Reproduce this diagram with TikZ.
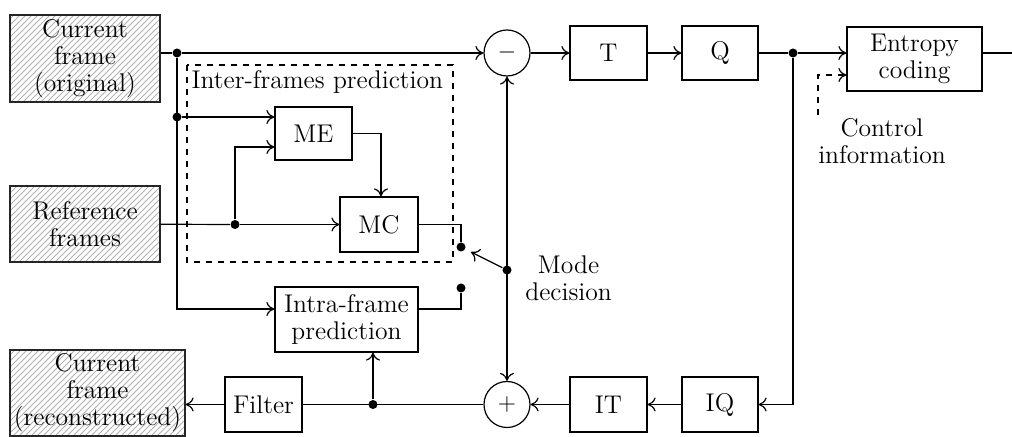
\documentclass[tikz,border=0pt]{standalone}
\usepackage{tikz}
\usetikzlibrary{calc,positioning,arrows.meta,patterns,shapes}

\begin{document}
\begin{tikzpicture}[x=0.5pt,y=-0.5pt,semithick,>={To[length=4pt,width=7pt]},
  every node/.style={font=\fontsize{12.8}{13.6}\selectfont,align=center},
  blk/.style={draw,rectangle,minimum width=38.5pt,minimum height=27.5pt,inner sep=1pt},
  frm/.style={draw=gray!30!black,rectangle,pattern=north east lines,pattern color=gray!60,inner sep=1pt},
  sum/.style={draw,circle,minimum size=23pt,inner sep=0pt},
  ele/.style={fill=black,circle,minimum size=4.5pt,inner sep=0pt}]
  \useasboundingbox (0,0) rectangle (1012,437);

  % frames
  \node[frm,minimum width=75pt,minimum height=43.5pt] (cur) at (85,58.5) {Current\\frame\\(original)};
  \node[frm,minimum width=75pt,minimum height=38pt] (ref) at (85,224) {Reference\\frames};
  \node[frm,minimum width=87.5pt,minimum height=43pt] (rec) at (97.5,393) {Current\\frame\\(reconstructed)};

  % inter prediction
  \draw[dashed] (187,65) rectangle (453,262);
  \node[anchor=north west,inner sep=1pt] (inter) at (189,68) {Inter-frames prediction};
  \node[blk,minimum height=26.5pt] (me) at (313.5,133.5) {ME};
  \node[blk,minimum width=39pt] (mc) at (379,224.5) {MC};
  \node[blk,minimum width=71.5pt,minimum height=32.5pt] (intra) at (346.5,319.5) {Intra-frame\\prediction};

  % coding chain
  \node[sum] (minus) at (507,53) {$-$};
  \node[blk,minimum height=27pt] (t) at (608.5,53) {T};
  \node[blk,minimum width=38pt,minimum height=27pt] (q) at (720,53) {Q};
  \node[blk,minimum width=67.5pt,minimum height=32pt] (ent) at (914.5,59) {Entropy\\coding};
  \coordinate (out) at (1012,53);
  \node (ctl) at (882,141) {Control\\information};
  \coordinate (c0) at (818,115);

  % reconstruction
  \node[blk,minimum width=38pt] (iq) at (720,404.5) {IQ};
  \node[blk] (it) at (608.5,404.5) {IT};
  \node[sum] (plus) at (507,404.5) {$+$};
  \node[blk] (filt) at (263.5,404.5) {Filter};

  % dots
  \node[ele] (j1) at (177,53) {};
  \node[ele] (j2) at (177,117) {};
  \node[ele] (j3) at (235,224.5) {};
  \node[ele] (j4) at (793,53) {};
  \node[ele] (j5) at (373,404.5) {};
  \node[ele] (sw1) at (461,247) {};
  \node[ele] (sw2) at (461,288) {};
  \node[ele] (md) at (507,270) {};
  \node[right=3pt of md,yshift=-4pt] (mdl) {Mode\\decision};

  \draw (cur.east |- j1) -- (j1);
  \draw[->] (j1) -- (minus);
  \draw[->] (j1) |- ($(intra.west)+(0,-10.5)$);
  \draw[->] (j2) -- (me.west |- j2);
  \draw (ref) -- (j3);
  \draw[->] (j3) -- (mc);
  \draw[->] (j3) |- ($(me.west)+(0,13.5)$);
  \draw[->] (me.east) -| ($(mc.north)+(2,0)$);
  \draw (mc.east) -| (sw1);
  \draw ($(intra.east)+(0,-10.5)$) -| (sw2);
  \draw[->,shorten >=3pt] (md) -- (sw1);
  \draw[<->] (minus) -- (plus);
  \draw[->] (minus) -- (t);
  \draw[->] (t) -- (q);
  \draw (q) -- (j4);
  \draw[->] (j4) -- (ent.west |- j4);
  \draw ($(ent.east)+(0,-6)$) -- (out);
  \draw[dashed,->] (c0) |- ($(ent.west)+(0,16)$);
  \draw[->] (j4) |- (iq);
  \draw[->] (iq) -- (it);
  \draw[->] (it) -- (plus);
  \draw (plus) -- (filt);
  \draw[->] (j5) -- (j5 |- intra.south);
  \draw[->] (filt) -- (filt -| rec.east);
\end{tikzpicture}
\end{document}
